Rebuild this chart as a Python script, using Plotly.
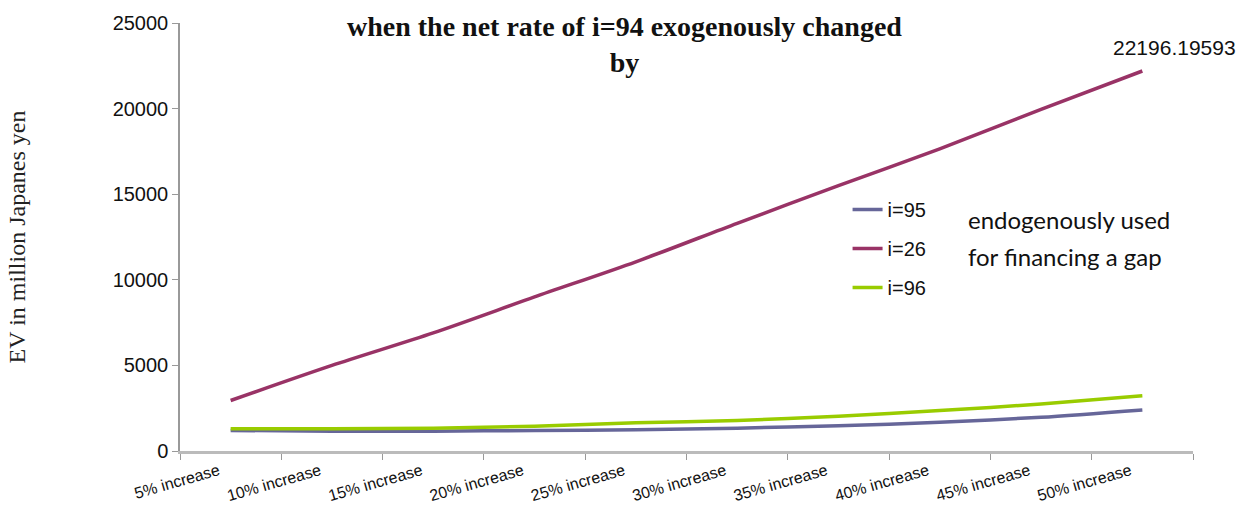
import plotly.graph_objects as go

# Categories along the x axis
categories = ["5% increase", "10% increase", "15% increase", "20% increase", "25% increase",
              "30% increase", "35% increase", "40% increase", "45% increase", "50% increase"]

# EV (million Japanese yen) for each sector
ev_i95 = [1200, 1160, 1160, 1200, 1240, 1335, 1470, 1680, 1970, 2400]
ev_i26 = [2950, 5000, 6900, 9000, 11050, 13300, 15500, 17650, 19950, 22196.19593]
ev_i96 = [1300, 1300, 1335, 1450, 1650, 1780, 2030, 2360, 2750, 3230]

y_ticks = [0, 5000, 10000, 15000, 20000, 25000]
y_tick_labels = ["0", "5000", "10000", "15000", "20000", "25000"]

series = [
    ("i=95", ev_i95, "#666699"),
    ("i=26", ev_i26, "#993366"),
    ("i=96", ev_i96, "#99CC00"),
]

fig = go.Figure()
for name, values, color in series:
    fig.add_trace(go.Scatter(
        x=categories, y=values, name=name, mode="lines",
        legendgroup=name,
        line=dict(color=color, width=3.5, shape="spline", smoothing=0.8),
    ))

# Value label on the final i=26 point
fig.add_annotation(
    x=categories[-1], y=ev_i26[-1], text=f"{ev_i26[-1]:.5f}",
    showarrow=False, xshift=32, yshift=24,
    font=dict(family="Liberation Sans", size=21, color="#111111"),
)

# Chart heading
fig.add_annotation(
    x=(624 - 180) / 1013, y=(451 - 6) / 431, xref="paper", yref="paper",
    text="when the net rate of i=94 exogenously changed<br>by",
    showarrow=False, xanchor="center", yanchor="top", align="center",
    font=dict(family="Liberation Serif", size=28, color="#111111", weight="bold"),
)

# Side note next to the legend
note_font = dict(family="Lato", size=24, color="#111111")
fig.add_annotation(x=(966 - 180) / 1013, y=(451 - 218) / 431, xref="paper", yref="paper",
                   text="endogenously used", showarrow=False, xanchor="left", yanchor="middle",
                   font=note_font)
fig.add_annotation(x=(966 - 180) / 1013, y=(451 - 255) / 431, xref="paper", yref="paper",
                   text="for financing a gap", showarrow=False, xanchor="left", yanchor="middle",
                   font=note_font)

fig.update_layout(
    width=1253, height=525,
    margin=dict(l=180, r=60, t=20, b=74),
    paper_bgcolor="white", plot_bgcolor="white",
    showlegend=True,
    legend=dict(
        x=0.659, y=0.61, xanchor="left", yanchor="top",
        bgcolor="rgba(0,0,0,0)", tracegroupgap=10,
        font=dict(family="Liberation Sans", size=20, color="#111111"),
    ),
    xaxis=dict(
        type="category", tickson="boundaries", ticks="outside", ticklen=6,
        tickcolor="#999999", showline=True, linecolor="#BBBBBB", linewidth=2.5,
        showgrid=False, zeroline=False, tickangle=-16, ticklabelshift=-12,
        ticklabelstandoff=2,
        tickfont=dict(family="Liberation Sans", size=16, color="#111111"),
        range=[-0.5, 9.5],
    ),
    yaxis=dict(
        range=[0, 25000], tickvals=y_ticks, ticktext=y_tick_labels,
        ticks="outside", ticklen=6,
        tickcolor="#999999", showline=True, linecolor="#999999", linewidth=1.5,
        showgrid=False, zeroline=False,
        tickfont=dict(family="Liberation Sans", size=20, color="#111111"),
        title=dict(text="EV in million Japanes yen", standoff=80,
                   font=dict(family="Liberation Serif", size=24, color="#222222")),
    ),
)

fig.write_html("out.html")
